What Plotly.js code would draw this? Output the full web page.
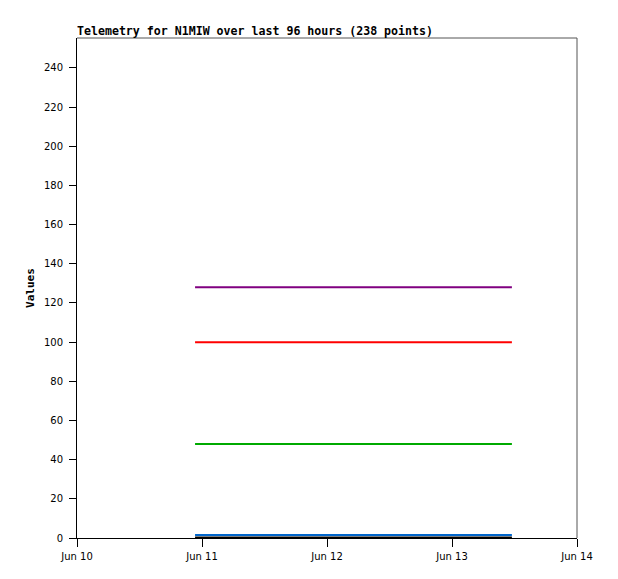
<!DOCTYPE html>
<html>
<head>
<meta charset="utf-8">
<script src="https://cdn.plot.ly/plotly-3.0.1.min.js"></script>
<style>html,body{margin:0;padding:0;background:#fff;}#chart{width:618px;height:579px;}</style>
</head>
<body>
<div id="chart"></div>
<script>
var times = ["2024-06-10 22:40", "2024-06-13 11:30"];
var seriesNames = ["Purple", "Red", "Green", "Blue", "Black"];
var seriesColors = ["#800080", "#ff0000", "#00aa00", "#0066cc", "#000000"];
var purpleValues = [128, 128];
var redValues = [100, 100];
var greenValues = [48, 48];
var blueValues = [1.5, 1.5];
var blackValues = [0.3, 0.3];
var tickVals = ["2024-06-10", "2024-06-11", "2024-06-12", "2024-06-13", "2024-06-14"];
var tickText = ["Jun 10", "Jun 11", "Jun 12", "Jun 13", "Jun 14"];

var allValues = [purpleValues, redValues, greenValues, blueValues, blackValues];
var traces = allValues.map(function (v, i) {
  return {x: times, y: v, type: "scatter", mode: "lines", name: seriesNames[i],
          line: {color: seriesColors[i], width: 2}, hoverinfo: "skip"};
});

var layout = {
  width: 618, height: 579,
  margin: {l: 77, r: 41, t: 38, b: 41},
  paper_bgcolor: "#fff", plot_bgcolor: "#fff",
  showlegend: false,
  title: {text: "<b>Telemetry for N1MIW over last 96 hours (238 points)</b>",
          font: {family: "DejaVu Sans Mono", size: 11.6, color: "#000"},
          x: 0, xref: "paper", xanchor: "left", y: 1, yref: "paper", yanchor: "bottom", pad: {b: 3}},
  xaxis: {type: "date", range: ["2024-06-10", "2024-06-14"], tickvals: tickVals, ticktext: tickText,
          showgrid: false, zeroline: false, showline: true, linecolor: "#000", linewidth: 1,
          ticks: "outside", ticklen: 8, tickcolor: "#000", tickwidth: 1, ticklabelstandoff: 1,
          tickfont: {family: "DejaVu Sans", size: 10, color: "#000"}},
  yaxis: {range: [0, 255.3], tick0: 0, dtick: 20, showgrid: false, zeroline: false,
          showline: true, linecolor: "#000", linewidth: 1,
          ticks: "outside", ticklen: 7, tickcolor: "#000", tickwidth: 1, ticklabelstandoff: 4,
          tickfont: {family: "DejaVu Sans", size: 10, color: "#000"},
          title: {text: "<b>Values</b>", font: {family: "DejaVu Sans Mono", size: 11, color: "#000"}, standoff: 7}},
  shapes: [
    {type: "line", xref: "paper", yref: "paper", x0: 0, x1: 1, y0: 1, y1: 1, line: {color: "#555", width: 1}},
    {type: "line", xref: "paper", yref: "paper", x0: 1, x1: 1, y0: 0, y1: 1, line: {color: "#555", width: 1}}
  ]
};
Plotly.newPlot("chart", traces, layout, {displayModeBar: false, staticPlot: true});
</script>
</body>
</html>
